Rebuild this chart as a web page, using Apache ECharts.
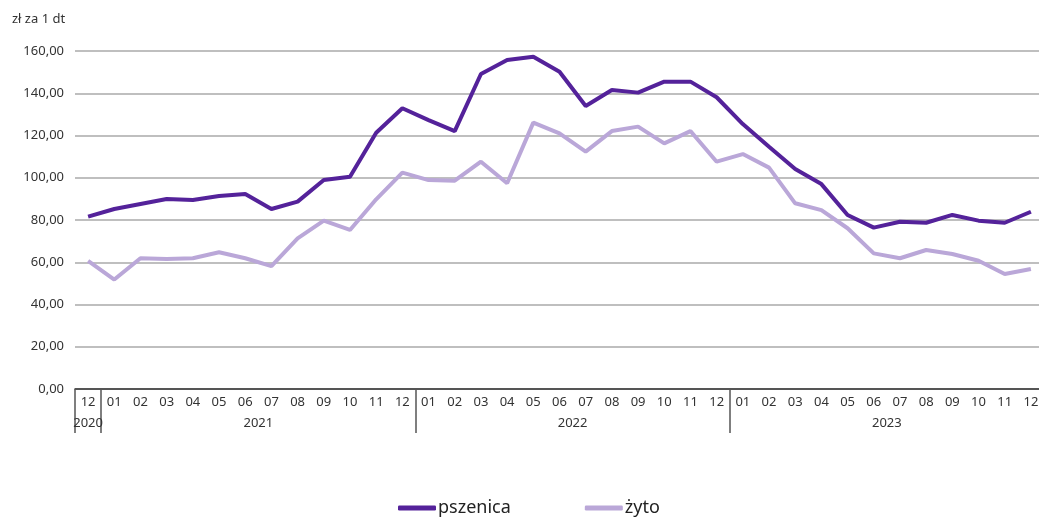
<!DOCTYPE html>
<html>
<head>
<meta charset="utf-8">
<script src="https://cdn.jsdelivr.net/npm/echarts@6/dist/echarts.min.js"></script>
<style>
  html, body { margin: 0; padding: 0; background: #fff; overflow: hidden; }
  #chart { width: 1046px; height: 518px; }
</style>
</head>
<body>
<div id="chart"></div>
<script>
const months = ['12',
  '01', '02', '03', '04', '05', '06', '07', '08', '09', '10', '11', '12',
  '01', '02', '03', '04', '05', '06', '07', '08', '09', '10', '11', '12',
  '01', '02', '03', '04', '05', '06', '07', '08', '09', '10', '11', '12']
const years = ['2020', '2021', '2022', '2023']
// year label sits in the middle of its months, separators between years
const yearCenters = [0, 6.5, 18.5, 30.5]
const yearBounds = [-0.5, 0.5, 12.5, 24.5, 36.5]

const pszenica = [81.6,
  85.2, 87.6, 89.9, 89.5, 91.4, 92.3, 85.2, 88.7, 98.9, 100.5, 121.3, 132.9,
  127.3, 122.1, 149.1, 155.7, 157.3, 150.2, 134.0, 141.5, 140.3, 145.5, 145.5, 138.1,
  125.4, 114.7, 104.1, 97.0, 82.4, 76.4, 79.2, 78.7, 82.4, 79.7, 78.7, 83.9]
const zyto = [60.6,
  51.8, 61.9, 61.5, 61.9, 64.7, 61.9, 58.2, 71.3, 79.7, 75.3, 89.8, 102.4,
  98.9, 98.6, 107.6, 97.4, 126.1, 121.0, 112.4, 122.1, 124.2, 116.3, 122.1, 107.6,
  111.2, 104.8, 87.9, 84.7, 76.1, 64.2, 61.9, 65.8, 63.9, 60.7, 54.4, 56.8]

const darkColor = '#54229a'
const lightColor = '#baa7d8'
const font = 'Noto Sans'

const chart = echarts.init(document.getElementById('chart'))

chart.setOption({
  animation: false,
  textStyle: { fontFamily: font },
  title: {
    text: 'zł za 1 dt',
    left: 7,
    top: 8,
    textStyle: { fontSize: 13, fontWeight: 'normal', color: '#333', fontFamily: font }
  },
  grid: { left: 75, top: 51, width: 969, height: 338, containLabel: false },
  legend: {
    top: 494,
    left: 393,
    itemWidth: 38,
    itemHeight: 5,
    itemGap: 74,
    icon: 'roundRect',
    textStyle: { fontSize: 18, color: '#222', padding: [0, 0, 0, -3] },
    data: ['pszenica', 'żyto']
  },
  xAxis: [
    {
      type: 'category',
      data: months,
      boundaryGap: true,
      axisLine: { lineStyle: { color: '#333', width: 1.5 } },
      axisTick: { show: false },
      axisLabel: { fontSize: 13, color: '#333', margin: 7, interval: 0 }
    },
    {
      type: 'value',
      position: 'bottom',
      min: -0.5,
      max: 36.5,
      axisLine: { show: false },
      splitLine: { show: false },
      axisTick: {
        show: true,
        customValues: yearBounds,
        length: 44,
        lineStyle: { color: '#555', width: 1.5 }
      },
      axisLabel: {
        customValues: yearCenters,
        fontSize: 13,
        color: '#333',
        margin: 28,
        formatter: v => years[yearCenters.indexOf(v)] || ''
      }
    }
  ],
  yAxis: {
    type: 'value',
    min: 0,
    max: 160,
    interval: 20,
    axisLine: { show: false },
    axisTick: { show: false },
    splitLine: { lineStyle: { color: '#aaaaaa', width: 1.5 } },
    axisLabel: {
      fontSize: 13,
      color: '#333',
      margin: 11,
      formatter: v => v.toFixed(2).replace('.', ',')
    }
  },
  series: [
    {
      name: 'pszenica',
      type: 'line',
      xAxisIndex: 0,
      data: pszenica,
      symbol: 'none',
      color: darkColor,
      lineStyle: { width: 4, color: darkColor },
      z: 3
    },
    {
      name: 'żyto',
      type: 'line',
      xAxisIndex: 0,
      data: zyto,
      symbol: 'none',
      color: lightColor,
      lineStyle: { width: 4, color: lightColor },
      z: 2
    }
  ]
})
</script>
</body>
</html>
